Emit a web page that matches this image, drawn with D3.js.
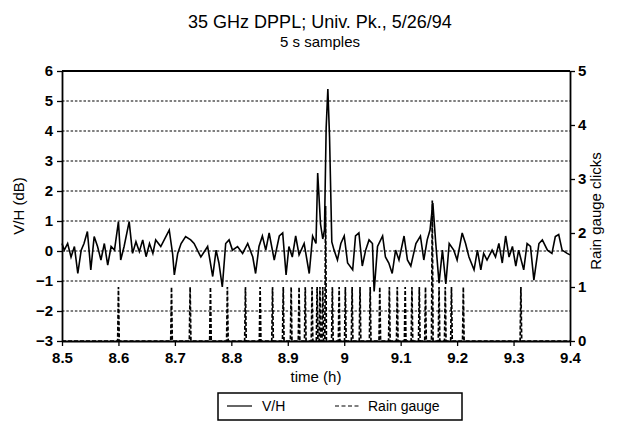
<!DOCTYPE html>
<html><head><meta charset="utf-8">
<script src="https://cdn.jsdelivr.net/npm/d3@7"></script>
<style>
body{margin:0;background:#fff;}
svg{font-family:"Liberation Sans",Arial,Helvetica,sans-serif;}
</style></head>
<body><svg id="c" width="619" height="431"></svg>
<script>
// ---------- data ----------
const titleText = "35 GHz DPPL; Univ. Pk., 5/26/94";
const subtitleText = "5 s samples";
const xTicks = [8.5, 8.6, 8.7, 8.8, 8.9, 9, 9.1, 9.2, 9.3, 9.4];
const yLeftTicks = [-3, -2, -1, 0, 1, 2, 3, 4, 5, 6];
const yRightTicks = [0, 1, 2, 3, 4, 5];
// V/H (dB) samples: time (h)
const vhTime = [8.500,8.504,8.510,8.516,8.522,8.528,8.534,8.539,8.545,8.551,8.557,8.563,8.569,8.575,8.581,8.587,8.593,8.600,8.604,8.610,
 8.619,8.625,8.631,8.637,8.643,8.649,8.655,8.661,8.666,8.675,8.684,8.690,8.696,8.699,8.705,8.711,8.719,8.728,8.734,8.746,
 8.758,8.767,8.773,8.778,8.784,8.790,8.796,8.802,8.811,8.820,8.829,8.838,8.843,8.849,8.855,8.861,8.867,8.876,8.885,8.891,
 8.897,8.902,8.908,8.914,8.920,8.929,8.938,8.944,8.950,8.953,8.958,8.962,8.965,8.968,8.971,8.974,8.978,8.982,8.988,8.994,
 9.000,9.006,9.015,9.020,9.026,9.032,9.038,9.044,9.050,9.053,9.059,9.068,9.073,9.079,9.085,9.091,9.097,9.106,9.112,9.118,
 9.127,9.135,9.141,9.144,9.147,9.152,9.157,9.162,9.168,9.174,9.180,9.186,9.194,9.200,9.209,9.215,9.221,9.230,9.236,9.242,
 9.247,9.253,9.262,9.268,9.274,9.280,9.286,9.292,9.298,9.304,9.309,9.318,9.324,9.330,9.336,9.345,9.351,9.360,9.368,9.374,
 9.380,9.386,9.395,9.400];
const vhValue = [0.25,0.03,0.25,-0.2,0.15,-0.75,0.03,0.25,0.65,-0.63,0.48,0.15,-0.3,0.25,-0.47,0.15,0.03,0.98,-0.3,0.15,
 0.98,-0.08,0.31,-0.02,0.37,-0.19,0.25,-0.08,0.37,0.15,0.48,0.7,-0.1,-0.8,-0.08,0.25,0.48,0.37,0.25,-0.2,
 0.15,-0.85,0.03,-0.4,-1.2,0.25,0.37,0.03,0.15,-0.08,0.25,-0.2,-0.75,0.15,0.5,0.03,0.6,-0.3,0.5,0.6,
 -0.8,0.15,-0.2,0.5,-0.13,0.25,-0.75,0.5,0.25,2.6,0.9,0.4,0.7,4.1,5.4,3.8,0.3,0.03,-0.3,0.25,
 0.5,-0.4,-0.63,0.5,0.6,-0.5,0.03,0.37,0.25,-1.35,0.15,0.5,-0.2,-0.4,-0.75,0.03,-0.3,0.5,-0.3,-0.5,
 0.25,0.5,-0.3,0.03,0.37,0.7,1.6,0.3,-1.07,0.03,-1.1,0.25,0.03,-0.3,0.6,0.25,-0.2,-0.63,0.03,-0.63,
 -0.08,-0.3,0.03,-0.2,0.25,-0.4,0.5,-0.2,0.15,-0.5,0.03,-0.63,0.25,0.15,-0.97,0.25,0.37,0.03,-0.08,0.48,
 0.55,0.03,-0.08,-0.13];
// Rain gauge clicks: time of each recorded click (h) and its count
const rainTime = [8.600,8.694,8.727,8.763,8.793,8.825,8.851,8.873,8.892,8.906,8.920,8.931,8.943,8.952,8.957,8.962,8.967,8.979,
 8.991,9.002,9.014,9.028,9.046,9.063,9.080,9.094,9.108,9.120,9.133,9.144,9.156,9.168,9.179,9.190,9.211,9.313];
const rainClicks = [1,1,1,1,1,1,1,1,1,1,1,1,1,1,1,1,2.5,1,
 1,1,1,1,1,1,1,1,1,1,1,1,2.6,1,1,1,1,1];
const sampleStep = 5/3600; // 5 s sample spacing in hours

// ---------- layout ----------
const svg = d3.select("#c");
const L = 62, R = 570, T = 71, B = 341;
const x = d3.scaleLinear().domain([8.5, 9.4]).range([L, R]);
const yL = d3.scaleLinear().domain([-3, 6]).range([B, T]);
const yR = d3.scaleLinear().domain([0, 5]).range([B, T]);

// title
svg.append("text").attr("x", 320).attr("y", 28).attr("text-anchor","middle")
  .attr("font-size", 18).text(titleText);
svg.append("text").attr("x", 320).attr("y", 47).attr("text-anchor","middle")
  .attr("font-size", 15).text(subtitleText);

// gridlines (dashed) at left ticks, excluding frame edges
svg.append("g").selectAll("line").data(yLeftTicks.filter(d => d > -3 && d < 6)).join("line")
  .attr("x1", L).attr("x2", R).attr("y1", d => yL(d)).attr("y2", d => yL(d))
  .attr("stroke", "#000").attr("stroke-width", 1.1).attr("stroke-dasharray", "2.5,1.8");

// rain gauge dashed spikes
const rainPts = [];
rainPts.push([8.5, 0]);
rainTime.forEach((t, i) => {
  rainPts.push([t - sampleStep, 0]);
  rainPts.push([t, rainClicks[i]]);
  rainPts.push([t + sampleStep, 0]);
});
rainPts.push([9.4, 0]);
svg.append("path").datum(rainPts)
  .attr("d", d3.line().x(d => x(d[0])).y(d => yR(d[1])))
  .attr("fill","none").attr("stroke","#000").attr("stroke-width",1.7)
  .attr("stroke-dasharray","4,2");

// V/H line
const vhPts = vhTime.map((t, i) => [t, vhValue[i]]);
svg.append("path").datum(vhPts)
  .attr("d", d3.line().x(d => x(d[0])).y(d => yL(d[1])))
  .attr("fill","none").attr("stroke","#000").attr("stroke-width",1.6)
  .attr("stroke-linejoin","miter");

// axes
const fs = 15;
const gx = svg.append("g").attr("transform", `translate(0,${B})`)
  .call(d3.axisBottom(x).tickValues(xTicks).tickFormat(d3.format("")).tickSize(5).tickSizeOuter(0));
const gyl = svg.append("g").attr("transform", `translate(${L},0)`)
  .call(d3.axisLeft(yL).tickValues(yLeftTicks).tickFormat(d3.format("")).tickSize(5).tickSizeOuter(0));
const gyr = svg.append("g").attr("transform", `translate(${R},0)`)
  .call(d3.axisRight(yR).tickValues(yRightTicks).tickFormat(d3.format("")).tickSize(5).tickSizeOuter(0));
[gx, gyl, gyr].forEach(g => {
  g.select(".domain").attr("stroke","#000").attr("stroke-width",1.8);
  g.selectAll(".tick line").attr("stroke","#000").attr("stroke-width",1.3);
  g.selectAll(".tick text").attr("font-size", fs).attr("font-family","Liberation Sans, Arial, sans-serif")
    .attr("fill","#000").attr("font-weight","bold");
});
gx.selectAll(".tick text").attr("dy","0.9em");
gyl.selectAll(".tick text").attr("dx","-1");
// top frame
svg.append("line").attr("x1", L).attr("x2", R).attr("y1", T).attr("y2", T)
  .attr("stroke","#000").attr("stroke-width",2);

// axis titles
svg.append("text").attr("x", 316).attr("y", 382).attr("text-anchor","middle")
  .attr("font-size", 15).text("time (h)");
svg.append("text").attr("transform", "translate(24,206) rotate(-90)").attr("text-anchor","middle")
  .attr("font-size", 15).text("V/H (dB)");
svg.append("text").attr("transform", "translate(601,211) rotate(-90)").attr("text-anchor","middle")
  .attr("font-size", 15).text("Rain gauge clicks");

// legend
const lg = svg.append("g");
lg.append("rect").attr("x", 218).attr("y", 393).attr("width", 244).attr("height", 27)
  .attr("fill","#fff").attr("stroke","#000").attr("stroke-width",1.5);
lg.append("line").attr("x1", 227).attr("x2", 252).attr("y1", 406).attr("y2", 406)
  .attr("stroke","#000").attr("stroke-width",1.2);
lg.append("text").attr("x", 262).attr("y", 411).attr("font-size", 14).text("V/H");
lg.append("line").attr("x1", 335).attr("x2", 359).attr("y1", 406).attr("y2", 406)
  .attr("stroke","#000").attr("stroke-width",1.2).attr("stroke-dasharray","4,2.5");
lg.append("text").attr("x", 368).attr("y", 411).attr("font-size", 14).text("Rain gauge");
</script></body></html>
